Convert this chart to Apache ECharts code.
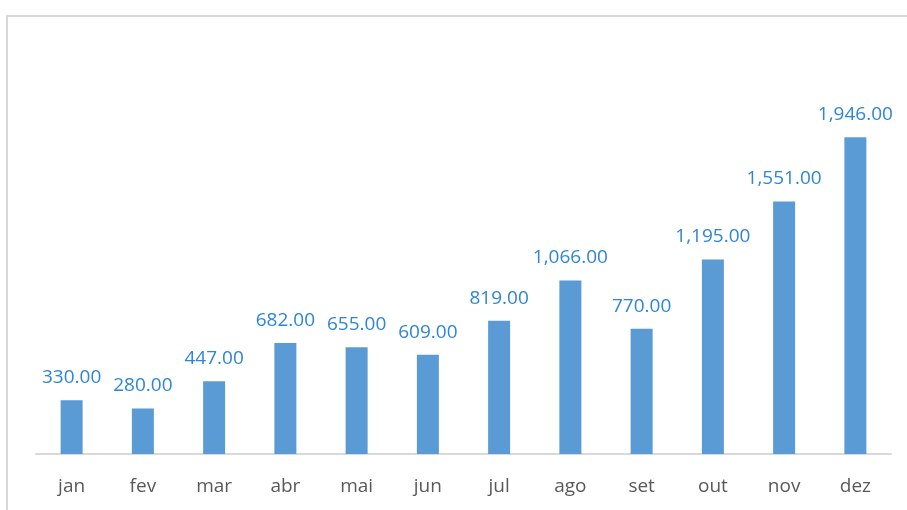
<!DOCTYPE html>
<html><head><meta charset="utf-8">
<script src="https://cdn.jsdelivr.net/npm/echarts@6/dist/echarts.min.js"></script>
<style>html,body{margin:0;padding:0;background:#fff}#c{width:907px;height:510px}</style>
</head><body><div id="c"></div>
<script>
const categories = ['jan','fev','mar','abr','mai','jun','jul','ago','set','out','nov','dez'];
const values = [330, 280, 447, 682, 655, 609, 819, 1066, 770, 1195, 1551, 1946];

const chart = echarts.init(document.getElementById('c'));
chart.setOption({
  animation: false,
  graphic: [
    {type:'line', shape:{x1:6,y1:16,x2:907,y2:16}, style:{stroke:'#d9d9d9', lineWidth:2}},
    {type:'line', shape:{x1:7,y1:16,x2:7,y2:510}, style:{stroke:'#d9d9d9', lineWidth:2}}
  ],
  grid: {left: 36, right: 16, top: 47, bottom: 56},
  xAxis: {
    type: 'category', data: categories,
    axisLine: {lineStyle: {color: '#d9d9d9', width: 2}},
    axisTick: {show: false},
    axisLabel: {color: '#595959', fontSize: 19, fontFamily: 'Open Sans', margin: 23}
  },
  yAxis: {type: 'value', min: 0, max: 2500, show: false, splitLine: {show: false}},
  series: [{
    type: 'bar', data: values, barWidth: 22,
    itemStyle: {color: '#5b9bd5'},
    label: {
      show: true, position: 'top', distance: 13,
      color: '#2e86d6', fontSize: 19, fontFamily: 'Open Sans',
      formatter: p => p.value.toLocaleString('en-US', {minimumFractionDigits: 2, maximumFractionDigits: 2})
    }
  }]
});
</script></body></html>
